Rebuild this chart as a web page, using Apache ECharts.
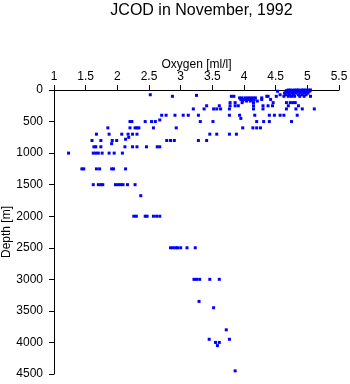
<!DOCTYPE html>
<html>
<head>
<meta charset="utf-8">
<script src="https://cdn.jsdelivr.net/npm/echarts@6/dist/echarts.min.js"></script>
<style>
html,body{margin:0;padding:0;background:#fff;}
#c{width:350px;height:384px;}
</style>
</head>
<body>
<div id="c"></div>
<script>
// Depth levels [m] and oxygen readings [ml/l] at each level
const depthLevels = [0, 10, 20, 30, 50, 75, 85, 100, 125, 150, 175, 200, 250, 300, 400, 450, 475, 500, 600, 700, 750, 780, 800, 850, 900, 1000, 1250, 1500, 1675, 2000, 2500, 3000, 3350, 3450, 3800, 3950, 4000, 4050, 4450];
const oxygenAtLevel = [
  [4.70, 4.74, 4.79, 4.83, 4.86, 4.91, 4.94, 4.98, 5.02, 5.05],
  [4.67, 4.72, 4.76, 4.81, 4.85, 4.88, 4.93, 4.97, 5.01, 5.04],
  [4.69, 4.75, 4.80, 4.87, 4.92, 4.99, 5.03, 4.53],
  [4.66, 4.71, 4.78, 4.84, 4.90, 4.96, 5.00],
  [4.64, 4.70, 4.76, 4.82, 4.89, 4.95, 5.01],
  [4.57, 4.66, 4.72, 4.78, 4.86, 4.92, 4.98, 2.52],
  [3.25],
  [2.87, 3.80, 3.84, 4.36, 4.38, 4.51, 4.63, 4.70, 4.75, 4.80, 4.88, 4.95, 5.05],
  [3.93, 3.97, 4.02, 4.06, 4.10, 4.14, 4.18, 4.28],
  [3.95, 4.00, 4.04, 4.08, 4.12, 4.16, 4.28, 4.42],
  [3.98, 4.04, 4.10, 4.21],
  [3.78, 3.86, 3.97, 4.15, 4.46, 4.67, 4.73, 4.77, 4.81],
  [3.41, 3.61, 3.78, 3.86, 3.91, 4.15, 4.30, 4.38, 4.45, 4.70, 4.86],
  [3.20, 3.37, 3.52, 3.57, 3.63, 3.77, 4.15, 4.30, 4.67, 4.82, 4.92, 5.11],
  [2.70, 2.77, 2.91, 3.04, 3.12, 3.28, 3.77, 3.93, 4.17, 4.40, 4.48, 4.57, 4.63, 4.84],
  [3.95],
  [2.67],
  [2.20, 2.23, 2.44, 2.54, 2.60, 3.31, 3.51, 4.20, 4.31, 4.40, 4.75],
  [1.85, 2.20, 2.28, 2.31, 2.34, 2.57, 2.93, 3.98, 4.14, 4.20, 4.26],
  [1.67, 1.87, 2.07, 2.17, 2.24, 2.31, 3.46, 3.57, 3.77, 3.88],
  [2.18],
  [2.13],
  [1.60, 1.74, 1.92, 1.99, 2.78, 2.84, 2.90, 3.28, 3.41],
  [1.91],
  [1.63, 1.66, 1.74, 2.12, 2.24, 2.31, 2.46, 2.63, 2.67],
  [1.23, 1.62, 1.66, 1.70, 1.76, 1.87, 1.95, 2.08],
  [1.44, 1.47, 1.67, 1.72, 1.91, 1.94, 2.13],
  [1.62, 1.70, 1.74, 1.77, 1.97, 2.01, 2.05, 2.09, 2.16, 2.28],
  [2.37],
  [2.26, 2.30, 2.44, 2.47, 2.57, 2.62, 2.67],
  [2.84, 2.88, 2.92, 2.95, 3.00, 3.10, 3.23],
  [3.21, 3.25, 3.30, 3.46, 3.61],
  [3.29],
  [3.52],
  [3.72],
  [3.45, 3.77],
  [3.55, 3.61],
  [3.58],
  [3.86]
];
const xTicks = [1, 1.5, 2, 2.5, 3, 3.5, 4, 4.5, 5, 5.5];
const yTicks = [0, 500, 1000, 1500, 2000, 2500, 3000, 3500, 4000, 4500];

const points = [];
depthLevels.forEach((d, i) => oxygenAtLevel[i].forEach(o => points.push([o, d])));

const font = 'Liberation Sans, Arial, Helvetica, sans-serif';
const chart = echarts.init(document.getElementById('c'), null, {renderer: 'canvas'});
chart.setOption({
  animation: false,
  backgroundColor: '#fff',
  title: {
    text: 'JCOD in November, 1992',
    left: 196.5, textAlign: 'center', top: -2,
    textStyle: {fontFamily: font, fontSize: 16, fontWeight: 'normal', color: '#000'}
  },
  grid: {left: 54, top: 90, width: 285, height: 284, containLabel: false, outerBoundsMode: 'none'},
  xAxis: {
    type: 'value', position: 'top',
    min: xTicks[0], max: xTicks[xTicks.length - 1], interval: 0.5,
    name: 'Oxygen [ml/l]', nameLocation: 'middle', nameGap: 19, nameMoveOverlap: false,
    nameTextStyle: {fontFamily: font, fontSize: 12, color: '#000'},
    axisLine: {show: true, lineStyle: {color: '#000', width: 1}},
    axisTick: {show: true, length: 5, lineStyle: {color: '#000'}},
    axisLabel: {fontFamily: font, fontSize: 12, color: '#000', margin: 7,
      showMinLabel: true, showMaxLabel: true, hideOverlap: false,
      formatter: v => String(v)},
    splitLine: {show: false}
  },
  yAxis: {
    type: 'value', inverse: true,
    min: yTicks[0], max: yTicks[yTicks.length - 1], interval: 500,
    name: 'Depth [m]', nameLocation: 'middle', nameGap: 41, nameMoveOverlap: false,
    nameTextStyle: {fontFamily: font, fontSize: 12, color: '#000'},
    axisLine: {show: true, lineStyle: {color: '#000', width: 1}},
    axisTick: {show: true, length: 5, lineStyle: {color: '#000'}},
    axisLabel: {fontFamily: font, fontSize: 12, color: '#000', margin: 11,
      showMinLabel: true, showMaxLabel: true, hideOverlap: false,
      formatter: v => String(v)},
    splitLine: {show: false}
  },
  series: [{
    type: 'scatter',
    data: points,
    symbol: 'rect',
    symbolSize: 3,
    itemStyle: {color: '#0000ff', opacity: 1},
    clip: false
  }]
});
</script>
</body>
</html>
